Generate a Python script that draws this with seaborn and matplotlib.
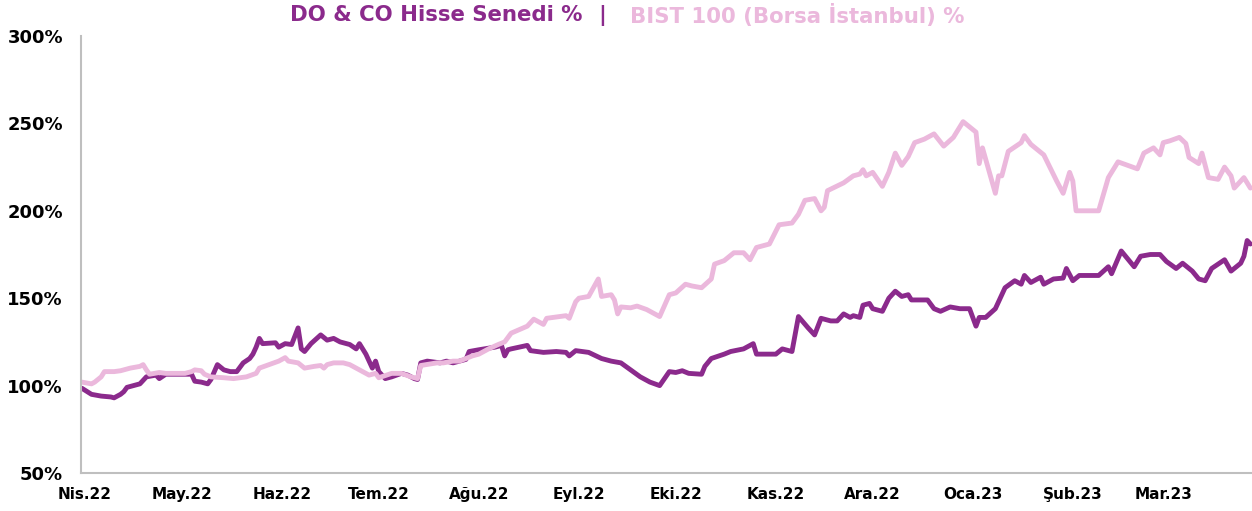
import pandas as pd
import numpy as np
import matplotlib
matplotlib.use("Agg")
import matplotlib.pyplot as plt
import seaborn as sns

# 1. Data (days counted from 1 Apr 2022, values in %)
start_date = pd.Timestamp("2022-04-01")

do_day = [-1, 2, 5, 8, 9, 11, 12, 13, 15, 17, 19, 22, 23, 25, 33, 34, 36, 38, 39, 41,
          43, 45, 47, 49, 51, 52, 53, 54, 55, 59, 60, 62, 64, 66, 67, 68, 70, 73, 75, 77,
          79, 82, 84, 85, 87, 88, 89, 90, 91, 93, 95, 98, 100, 102, 103, 104, 106, 110, 112, 114,
          118, 119, 122, 127, 129, 130, 131, 132, 137, 138, 142, 146, 149, 150, 152, 156, 160, 163, 166, 169,
          172, 175, 178, 181, 183, 185, 187, 191, 192, 194, 198, 200, 204, 207, 208, 214, 216, 219, 221, 224,
          226, 228, 231, 233, 235, 237, 238, 240, 241, 243, 244, 247, 249, 251, 253, 255, 256, 261, 263, 265,
          268, 271, 274, 276, 277, 279, 282, 285, 288, 290, 291, 293, 296, 297, 300, 303, 304, 306, 308, 314,
          317, 318, 321, 325, 327, 330, 333, 335, 338, 340, 343, 345, 347, 349, 353, 355, 358, 359, 360, 361]
do_val = [98.5, 95, 94, 93.5, 93, 95, 96.5, 99, 100, 101, 105, 106, 104, 106.5, 106.5, 102.5, 102, 101, 103.5, 112,
          109, 108, 108, 113, 115.5, 118, 122, 127, 124, 124.5, 122, 124, 123.5, 133, 121, 119.5, 124, 129, 126, 127,
          125, 123.5, 121, 124, 118, 114, 110, 114, 108, 104, 105, 107, 106, 104, 103.5, 113, 114, 113, 114, 113,
          115, 119.5, 120.5, 122, 123, 117, 120.5, 121, 123, 120, 119, 119.5, 119, 117, 120, 119, 115.5, 114, 113, 109,
          105, 102, 100, 108, 107.5, 108.5, 107, 106.5, 111, 115.5, 118, 119.5, 121, 124, 118, 118, 121, 119.5, 139.5, 133,
          129, 138.5, 137, 137, 141, 139, 140, 139, 146, 147, 144, 142.5, 150, 154, 151, 152, 149, 149, 144, 142.5,
          145, 144, 144, 134, 139, 139, 144, 156, 160, 158, 163, 159, 162, 158, 161, 161.5, 167, 160, 163, 163,
          168, 164, 177, 168, 174, 175, 175, 171, 167, 170, 165.5, 161, 160, 167, 172, 165.5, 170, 174, 183, 181]

bist_day = [-1, 2, 3, 5, 6, 9, 11, 12, 14, 17, 18, 19, 20, 23, 25, 31, 33, 34, 36, 37,
            39, 43, 46, 50, 53, 54, 57, 60, 62, 63, 66, 68, 71, 73, 74, 75, 77, 80, 82, 84,
            86, 88, 90, 91, 95, 98, 101, 103, 104, 109, 111, 114, 116, 118, 120, 122, 125, 128, 130, 132,
            137, 139, 142, 143, 149, 150, 152, 153, 156, 159, 160, 163, 164, 165, 166, 169, 171, 174, 178, 181,
            183, 186, 188, 191, 194, 195, 198, 201, 204, 206, 208, 212, 215, 219, 221, 223, 226, 228, 229, 230,
            235, 238, 240, 241, 242, 244, 247, 249, 251, 253, 255, 257, 260, 263, 266, 269, 272, 276, 277, 278,
            282, 283, 284, 286, 290, 291, 293, 297, 301, 303, 305, 306, 307, 314, 317, 318, 320, 323, 326, 328,
            331, 333, 334, 336, 339, 341, 342, 345, 346, 348, 351, 353, 355, 356, 359, 361]
bist_val = [102, 101, 102, 105, 108, 108, 108.5, 109, 110, 111, 112, 109, 106.5, 107.5, 107, 107, 108, 109, 108.5, 106.5,
            105, 104.5, 104, 105, 107, 110, 112, 114, 116, 114, 113, 110, 111, 111.5, 110, 112, 113, 113, 112, 110,
            108, 106, 107, 104.5, 107, 107, 105, 104, 111.5, 113, 113, 114, 114, 115.5, 117, 118, 121, 123.5, 125, 130,
            134, 138, 135, 138.5, 140, 138.5, 148, 150, 151, 161, 151, 152, 149, 141, 145, 144.5, 145.5, 143.5, 139.5, 152,
            153, 158, 157, 156, 161, 169.5, 171.5, 176, 176, 172, 179, 181, 192, 193, 198, 206, 207, 200, 202, 211.5,
            216, 220, 221, 223.5, 220, 222, 214, 222, 233, 226, 231, 239, 241, 244, 237, 242, 251, 245, 227, 236,
            210, 220, 220, 234, 239, 243, 238, 232, 217, 210, 222, 217, 200, 200, 219, 222, 228, 226, 224, 233,
            236, 232, 239, 240, 242, 238.5, 230.5, 227, 233, 219, 218, 225, 220, 213, 219, 213]

month_labels = ["Nis.22", "May.22", "Haz.22", "Tem.22", "Ağu.22", "Eyl.22",
                "Eki.22", "Kas.22", "Ara.22", "Oca.23", "Şub.23", "Mar.23"]
series_names = ["DO & CO Hisse Senedi %", "BIST 100 (Borsa İstanbul) %"]

purple = "#8B2A8C"
pink = "#EBB8DC"

df = pd.concat([
    pd.DataFrame({"date": start_date + pd.to_timedelta(do_day, unit="D"), "value": do_val, "series": series_names[0]}),
    pd.DataFrame({"date": start_date + pd.to_timedelta(bist_day, unit="D"), "value": bist_val, "series": series_names[1]}),
])

# 2. Plot
sns.set_style("white")
plt.rcParams["font.family"] = ["DejaVu Sans"]

fig = plt.figure(figsize=(12.52, 5.11), dpi=100)
ax = fig.add_axes([81 / 1252, 1 - 473 / 511, 1 - 81 / 1252, (473 - 36) / 511])

sns.lineplot(data=df, x="date", y="value", hue="series", hue_order=series_names,
             palette=[purple, pink], linewidth=3.5, estimator=None, legend=False, ax=ax)
for line in ax.get_lines():
    line.set_solid_joinstyle("round")
    line.set_solid_capstyle("round")

ax.set_ylim(50, 300)
ax.set_yticks(range(50, 301, 50))
ax.set_yticklabels([f"{v}%" for v in range(50, 301, 50)], fontsize=13, fontweight="bold", color="black")
ax.set_xlim(start_date - pd.Timedelta(days=1.25), start_date + pd.Timedelta(days=361.5))
ax.set_xticks(pd.date_range("2022-04-01", periods=12, freq="MS"))
ax.set_xticklabels(month_labels, fontsize=11, fontweight="bold", color="black")
ax.tick_params(axis="y", length=0, pad=13)
ax.tick_params(axis="x", length=0, pad=10)
ax.set_xlabel("")
ax.set_ylabel("")

sns.despine(ax=ax)
for side in ["left", "bottom"]:
    ax.spines[side].set_color("#BFBFBF")
    ax.spines[side].set_linewidth(1.5)

title_y = 1 - 15 / 511
fig.text(582 / 1252, title_y, series_names[0], color=purple,
         fontsize=15.3, fontweight="bold", ha="right", va="center")
fig.text(602 / 1252, title_y, "|", color=purple,
         fontsize=15.3, fontweight="bold", ha="center", va="center")
fig.text(630 / 1252, title_y, series_names[1], color=pink,
         fontsize=15.3, fontweight="bold", ha="left", va="center")

plt.savefig("out.png", dpi=100)
plt.close()
